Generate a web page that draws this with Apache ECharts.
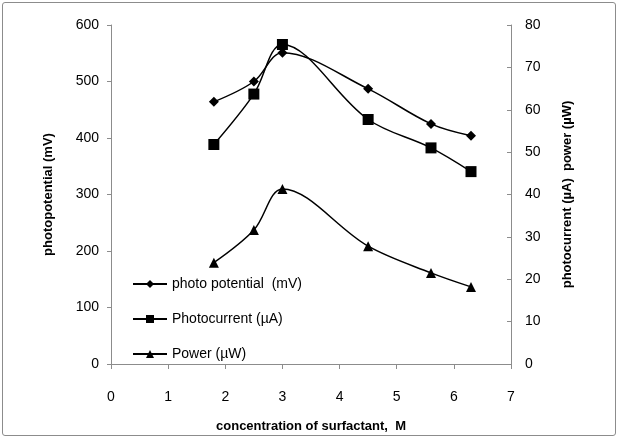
<!DOCTYPE html>
<html>
<head>
<meta charset="utf-8">
<script src="https://cdn.jsdelivr.net/npm/echarts@6/dist/echarts.min.js"></script>
<style>
  html, body { margin: 0; padding: 0; background: #fff; }
  #chart { width: 618px; height: 438px; }
  .frame {
    position: absolute; left: 2px; top: 2px; width: 612px; height: 432px;
    border: 1px solid #8c8c8c; border-radius: 3px; pointer-events: none;
  }
</style>
</head>
<body>
<div id="chart"></div>
<div class="frame"></div>
<script>
  // ==== data ====
  const concentration = [1.8, 2.5, 3, 4.5, 5.6, 6.3]
  const photoPotential = [464, 500, 551, 487, 425, 404]
  const photocurrent = [51.8, 63.7, 75.4, 57.7, 51.0, 45.4]
  const power = [23.9, 31.6, 41.3, 27.8, 21.5, 18.2]

  const pairs = (ys) => concentration.map((x, i) => [x, ys[i]])

  const font = 'Liberation Sans, Arial, sans-serif'
  const axisGray = '#8c8c8c'

  const chart = echarts.init(document.getElementById('chart'))

  const lineSeries = (name, data, symbol, size, yAxisIndex) => ({
    name,
    type: 'line',
    data: pairs(data),
    yAxisIndex,
    smooth: 0.35,
    symbol,
    symbolSize: size,
    itemStyle: { color: '#000' },
    lineStyle: { color: '#000', width: 1.5 },
    z: 3
  })

  chart.setOption({
    animation: false,
    textStyle: { fontFamily: font },
    grid: { left: 111, right: 107, top: 25, bottom: 74 },
    legend: {
      orient: 'vertical',
      left: 127,
      top: 272,
      itemGap: 21,
      itemWidth: 34,
      itemHeight: 10,
      textStyle: { fontSize: 14, color: '#000', fontFamily: font },
      data: ['photo potential  (mV)', 'Photocurrent (µA)', 'Power (µW)']
    },
    xAxis: {
      type: 'value',
      min: 0,
      max: 7,
      interval: 1,
      name: 'concentration of surfactant,  M',
      nameLocation: 'middle',
      nameGap: 56,
      nameTextStyle: { fontSize: 13, fontWeight: 'bold', color: '#000' },
      axisLine: { lineStyle: { color: axisGray } },
      axisTick: { show: true, length: 5, lineStyle: { color: axisGray } },
      axisLabel: { fontSize: 14, color: '#000', margin: 26 },
      splitLine: { show: false }
    },
    yAxis: [
      {
        type: 'value',
        min: 0,
        max: 600,
        interval: 100,
        name: 'photopotential (mV)',
        nameLocation: 'middle',
        nameGap: 56,
        nameRotate: 90,
        nameTextStyle: { fontSize: 13, fontWeight: 'bold', color: '#000' },
        axisLine: { show: true, lineStyle: { color: axisGray } },
        axisTick: { show: true, length: 4, lineStyle: { color: axisGray } },
        axisLabel: { fontSize: 14, color: '#000', margin: 12 },
        splitLine: { show: false }
      },
      {
        type: 'value',
        position: 'right',
        min: 0,
        max: 80,
        interval: 10,
        name: 'photocurrent (µA)  power (µW)',
        nameLocation: 'middle',
        nameGap: 50,
        nameRotate: 90,
        nameTextStyle: { fontSize: 13, fontWeight: 'bold', color: '#000' },
        axisLine: { show: true, lineStyle: { color: axisGray } },
        axisTick: { show: true, inside: true, length: 4, lineStyle: { color: axisGray } },
        axisLabel: { fontSize: 14, color: '#000', margin: 14 },
        splitLine: { show: false }
      }
    ],
    series: [
      lineSeries('photo potential  (mV)', photoPotential, 'diamond', 10, 0),
      lineSeries('Photocurrent (µA)', photocurrent, 'rect', 11, 1),
      lineSeries('Power (µW)', power, 'triangle', 10, 1)
    ]
  })
</script>
</body>
</html>
